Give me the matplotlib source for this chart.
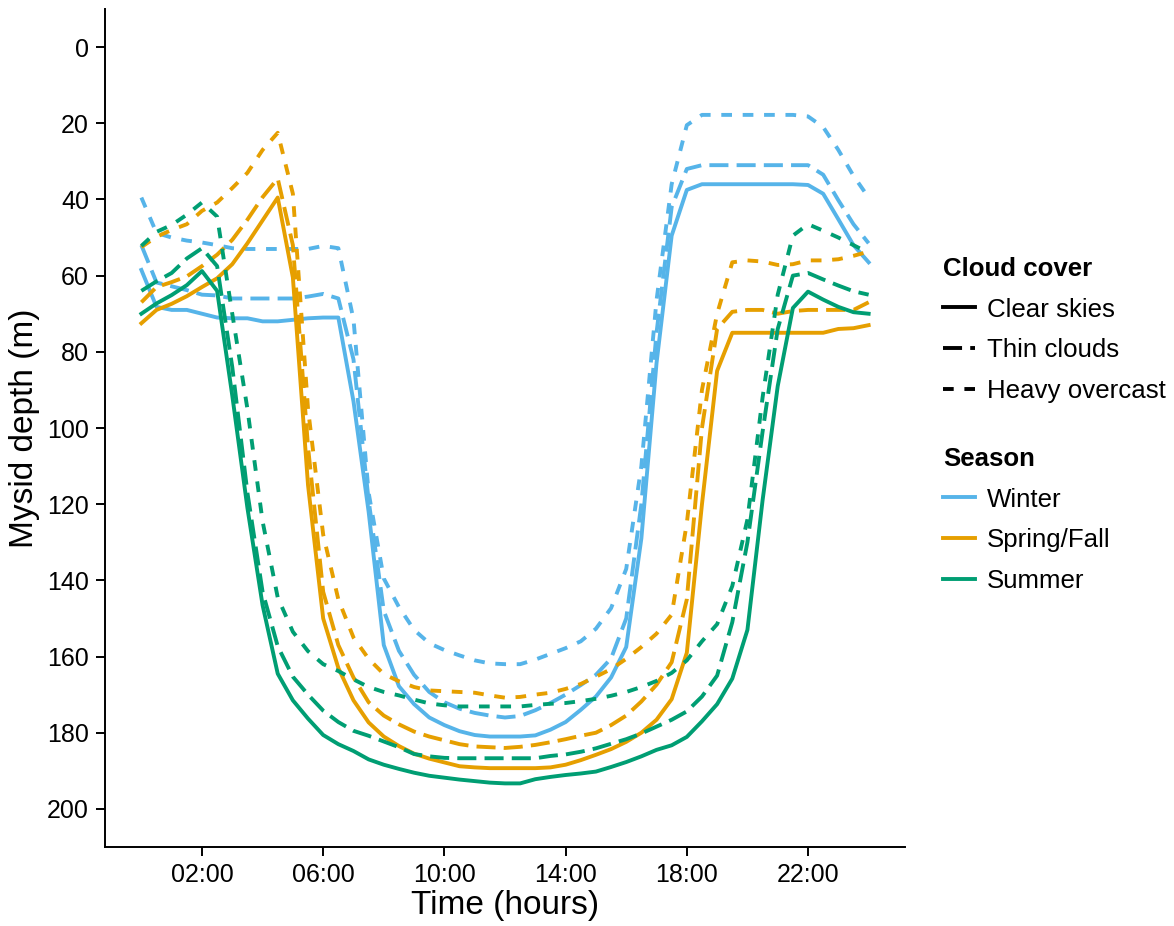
import matplotlib
matplotlib.use("Agg")
import matplotlib.pyplot as plt
from matplotlib.lines import Line2D

plt.rcParams['font.family'] = ['Liberation Sans', 'DejaVu Sans']

# time of day in hours, half-hour steps
hours = [i * 0.5 for i in range(49)]

# mean mysid depth (m) for each season / cloud cover combination
winter_clear = [58.5, 68.2, 69, 69, 70, 71, 71.2, 71.2, 72, 72, 71.6, 71.2, 71, 71,
                93, 122, 157, 167.8, 172.5, 176, 178, 179.6, 180.6, 181, 181, 181,
                180.7, 179.2, 177.2, 174, 170.5, 165.5, 157.5, 129, 83, 49.5, 37.5, 36,
                36, 36, 36, 36, 36, 36, 36.2, 38.5, 45.2, 52, 56.5]
winter_thin = [52, 61.8, 62.8, 63.8, 65, 65.2, 66, 66, 66, 66, 66, 65.5, 64.8, 66,
               82, 119, 148, 158.5, 164.8, 169.3, 172, 173.7, 174.8, 175.5, 176, 175.6,
               174.1, 172.2, 170, 167.5, 164.8, 160.5, 150, 120, 75, 42, 32, 31,
               31, 31, 31, 31, 31, 31, 31, 33.5, 40.2, 46.5, 51.5]
winter_heavy = [39.5, 48.8, 50, 50.8, 51.3, 52, 52.8, 53, 53, 53, 53, 53, 52.2, 52.8,
                71.5, 117, 139.5, 147, 153, 156.5, 158.3, 159.7, 161, 161.8, 162, 162,
                160.8, 159.3, 157.8, 156, 152.7, 147.3, 137, 110, 66.5, 36, 20.5, 17.8,
                17.8, 17.8, 17.8, 17.8, 17.8, 17.8, 18.2, 21, 27, 33.8, 39.5]

spring_clear = [72.5, 69, 67.4, 65.4, 63, 60.7, 57, 51.5, 45.5, 39.5, 60.5, 115, 150, 163,
                171.5, 177.3, 181, 183.5, 185.5, 186.8, 187.8, 188.8, 189.1, 189.3, 189.3,
                189.3, 189.3, 189.1, 188.4, 187.2, 185.8, 184.3, 182.4, 180, 176.6, 171.2,
                159, 120, 85, 75, 75, 75, 75, 75, 75, 75, 74, 73.8, 73]
spring_thin = [67, 63, 61.7, 60.2, 57.5, 54.5, 50.6, 45.3, 39.4, 34.5, 52, 105, 143, 157,
               165.5, 172, 175.5, 177.8, 179.7, 181, 182, 183, 183.6, 183.8, 184, 183.7,
               183.2, 182.5, 181.7, 180.8, 180, 178, 175.5, 171.8, 167.4, 161.5, 145, 100,
               74, 69.5, 69, 69, 70, 69.3, 69, 69, 69, 69, 67]
spring_heavy = [52.5, 49.8, 48, 46.5, 43, 40.8, 37, 33, 27, 22.5, 38.5, 95, 128, 145,
                155, 160.6, 164.6, 166.5, 168, 168.9, 169.1, 169.3, 169.5, 170.2, 170.8, 170.6,
                170, 169.5, 168.5, 167.2, 165.3, 163.3, 160.6, 157.5, 154, 149, 125, 90,
                70, 56.5, 56, 56.3, 57.2, 57, 56, 56, 55.7, 54.8, 53.7]

summer_clear = [70, 67.3, 65.1, 62.5, 58.8, 64, 91.5, 121, 146.5, 164.5, 171.5, 176.3, 180.6,
                183, 184.8, 187, 188.4, 189.5, 190.5, 191.3, 191.8, 192.3, 192.7, 193.1, 193.3,
                193.3, 192.2, 191.6, 191.1, 190.7, 190.2, 189, 187.7, 186.2, 184.5, 183.3,
                181.1, 177, 172.5, 165.8, 153, 119, 89, 68.5, 64.2, 66.3, 68.2, 69.6, 70]
summer_thin = [64, 61.5, 59.3, 55.5, 52.8, 57.5, 84, 117, 143, 157.3, 165.3, 170, 174.2,
               177.2, 179.5, 180.8, 182.3, 183.8, 185.6, 186.2, 186.6, 186.7, 186.7, 186.7,
               186.7, 186.7, 186.7, 186.1, 185.7, 185, 184.1, 182.9, 181.7, 180.2, 178.4,
               176.6, 174.4, 170.5, 165, 151, 130, 101, 74, 60, 59.3, 61, 62.6, 64.1, 65]
summer_heavy = [52.2, 48.5, 46.7, 44, 40.8, 44.5, 70, 95, 124.5, 144.5, 153.5, 158.6, 162,
                163.8, 166, 168, 169.3, 170.2, 171.3, 172.3, 172.8, 173.1, 173.1, 173.1,
                173.1, 173.1, 172.7, 172.4, 172.2, 171.7, 171.1, 170.3, 169.3, 168, 166.4,
                164.3, 161, 156, 151.5, 141.5, 124, 92, 65, 49.5, 46.5, 48.2, 50, 52, 54]

seasons = ['Winter', 'Spring/Fall', 'Summer']
clouds = ['Clear skies', 'Thin clouds', 'Heavy overcast']
depths = {
    'Winter': [winter_clear, winter_thin, winter_heavy],
    'Spring/Fall': [spring_clear, spring_thin, spring_heavy],
    'Summer': [summer_clear, summer_thin, summer_heavy],
}

colors = {'Winter': '#56B4E9', 'Spring/Fall': '#E69F00', 'Summer': '#009E73'}
lw = 2.8
styles = {'Clear skies': '-',
          'Thin clouds': (0, (4.9, 2.1)),
          'Heavy overcast': (0, (2.75, 2.75))}

fig = plt.figure(figsize=(11.74, 9.26), dpi=100)
ax = fig.add_axes([105 / 1174, 1 - 847 / 926, 800 / 1174, 838 / 926])

for season in seasons:
    for cloud, series in zip(clouds, depths[season]):
        ax.plot(hours, series, color=colors[season], linestyle=styles[cloud], lw=lw)

ax.set_xlim(-1.2, 25.2)
ax.set_ylim(210, -10)
ax.set_xticks([2, 6, 10, 14, 18, 22])
ax.set_xticklabels(['02:00', '06:00', '10:00', '14:00', '18:00', '22:00'])
ax.set_yticks(range(0, 201, 20))

for side in ['top', 'right']:
    ax.spines[side].set_visible(False)
for side in ['left', 'bottom']:
    ax.spines[side].set_linewidth(1.4)
ax.tick_params(length=6.5, width=1.4, labelsize=18, pad=5, colors='black')

ax.set_xlabel('Time (hours)', fontsize=24, labelpad=2)
ax.set_ylabel('Mysid depth (m)', fontsize=24, labelpad=5)

# two separate keys: line type for cloud cover, colour for season
cloud_handles = [Line2D([], [], color='black', lw=lw, linestyle=styles[c]) for c in clouds]
season_handles = [Line2D([], [], color=colors[s], lw=lw) for s in seasons]

leg_kw = dict(loc='upper left', frameon=False, fontsize=18.6, alignment='left',
              title_fontproperties={'weight': 'bold', 'size': 18.6},
              handlelength=1.25, handletextpad=0.45, labelspacing=0.64,
              borderpad=0, borderaxespad=0)
fig.legend(cloud_handles, clouds, title='Cloud cover',
           bbox_to_anchor=(943 / 1174, 1 - 257 / 926), **leg_kw)
fig.legend(season_handles, seasons, title='Season',
           bbox_to_anchor=(943 / 1174, 1 - 447 / 926), **leg_kw)

fig.savefig('out.png', dpi=100)
